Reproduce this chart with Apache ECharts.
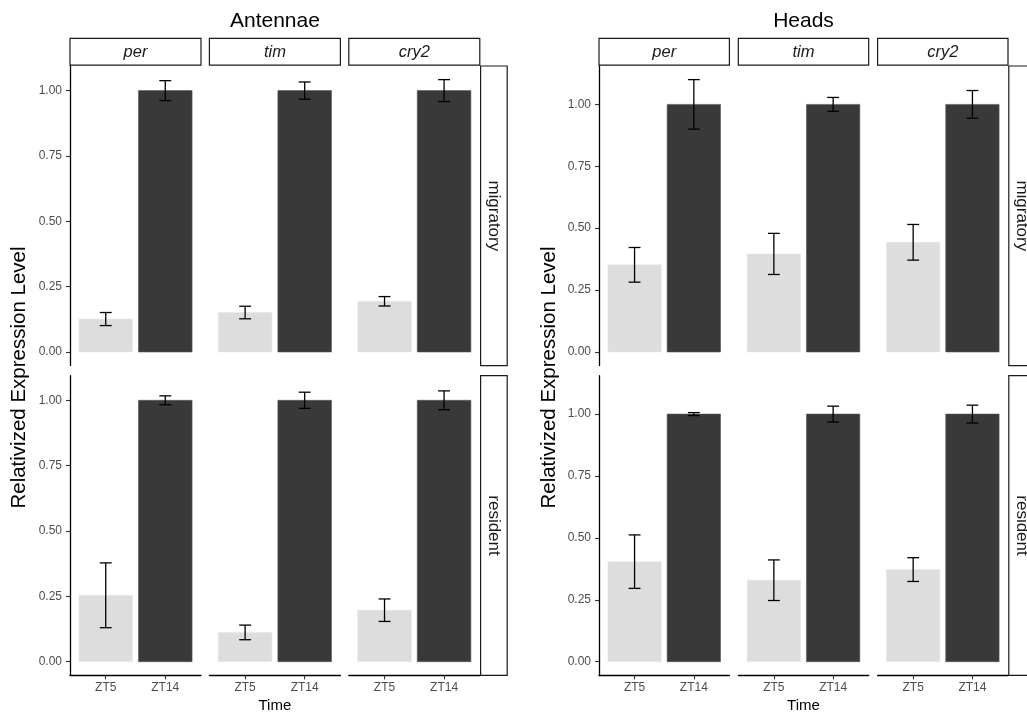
<!DOCTYPE html>
<html>
<head>
<meta charset="utf-8">
<script src="https://cdn.jsdelivr.net/npm/echarts@6/dist/echarts.min.js"></script>
<style>
html,body{margin:0;padding:0;background:#fff;}
#chart{width:1027px;height:712px;}
</style>
</head>
<body>
<div id="chart"></div>
<script>
// ---------- data ----------
const tissues = ['Antennae', 'Heads'];
const genes = ['per', 'tim', 'cry2'];
const populations = ['migratory', 'resident'];
const times = ['ZT5', 'ZT14'];
const yTicks = [0, 0.25, 0.5, 0.75, 1.0];

// means per gene: [ZT5, ZT14]
const antMigMean = [[0.126, 1.0], [0.151, 1.0], [0.194, 1.0]];
const antMigErr  = [[0.025, 0.038], [0.024, 0.033], [0.018, 0.042]];
const antResMean = [[0.254, 1.0], [0.112, 1.0], [0.197, 1.0]];
const antResErr  = [[0.124, 0.017], [0.028, 0.031], [0.043, 0.036]];
const headMigMean = [[0.352, 1.0], [0.396, 1.0], [0.443, 1.0]];
const headMigErr  = [[0.070, 0.100], [0.083, 0.028], [0.072, 0.056]];
const headResMean = [[0.404, 1.0], [0.329, 1.0], [0.372, 1.0]];
const headResErr  = [[0.108, 0.006], [0.082, 0.032], [0.048, 0.036]];

const means = [[antMigMean, antResMean], [headMigMean, headResMean]];
const errs  = [[antMigErr, antResErr], [headMigErr, headResErr]];

// ---------- layout / style ----------
const FONT = '"Liberation Sans", Arial, Helvetica, sans-serif';
const fillColors = ['#DDDDDD', '#393939'];
const panelLeft = [[70, 209.4, 348.8], [599, 738.3, 877.6]];
const panelW = [131, 130.4];
const rowTop = [66, 375.7];
const rowH = 299.6;
const stripTop = 38.3, stripH = 26.8, sideStripW = 26.6;

const grids = [], xAxes = [], yAxes = [], series = [], graphics = [];

for (let t = 0; t < 2; t++) {
  // y-limits like ggplot (5% expansion of data range)
  let top = 0;
  for (let r = 0; r < 2; r++) for (let g = 0; g < 3; g++) for (let k = 0; k < 2; k++)
    top = Math.max(top, means[t][r][g][k] + errs[t][r][g][k]);
  const ymin = -0.05 * top, ymax = top * 1.05;

  for (let r = 0; r < 2; r++) {
    for (let g = 0; g < 3; g++) {
      const idx = grids.length;
      grids.push({left: panelLeft[t][g], top: rowTop[r], width: panelW[t], height: rowH, containLabel: false});
      const bottomRow = r === 1;
      xAxes.push({
        gridIndex: idx, type: 'value', min: 0.4, max: 2.6,
        splitLine: {show: false},
        axisLine: {show: bottomRow, onZero: false, lineStyle: {color: '#000', width: 1.3}},
        axisTick: {show: bottomRow, customValues: [1, 2], length: 4, lineStyle: {color: '#333', width: 1.1}},
        axisLabel: {show: bottomRow, customValues: [1, 2], margin: 6, color: '#4D4D4D', fontSize: 12, fontFamily: FONT,
          formatter: v => times[Math.round(v) - 1]}
      });
      const leftCol = g === 0;
      yAxes.push({
        gridIndex: idx, type: 'value', min: ymin, max: ymax,
        splitLine: {show: false},
        axisLine: {show: leftCol, onZero: false, lineStyle: {color: '#000', width: 1.3}},
        axisTick: {show: leftCol, customValues: yTicks, length: 4, lineStyle: {color: '#333', width: 1.1}},
        axisLabel: {show: leftCol, customValues: yTicks, margin: 8, color: '#4D4D4D', fontSize: 12, fontFamily: FONT,
          formatter: v => v.toFixed(2)}
      });
      // bars
      const barData = times.map((tm, k) => [k + 1, means[t][r][g][k], k]);
      series.push({
        type: 'custom', xAxisIndex: idx, yAxisIndex: idx, data: barData,
        encode: {x: 0, y: 1},
        renderItem: (params, api) => {
          const x = api.value(0), y = api.value(1), k = api.value(2);
          const p0 = api.coord([x - 0.45, y]);
          const p1 = api.coord([x + 0.45, 0]);
          return {type: 'rect', shape: {x: p0[0], y: p0[1], width: p1[0] - p0[0], height: p1[1] - p0[1]},
            style: {fill: fillColors[k], stroke: k === 0 ? '#E8E8E8' : '#555', lineWidth: 0.6}};
        }
      });
      // error bars
      const errData = times.map((tm, k) => [k + 1, means[t][r][g][k] - errs[t][r][g][k], means[t][r][g][k] + errs[t][r][g][k]]);
      series.push({
        type: 'custom', xAxisIndex: idx, yAxisIndex: idx, data: errData,
        encode: {x: 0, y: [1, 2]}, z: 5,
        renderItem: (params, api) => {
          const x = api.value(0), lo = api.value(1), hi = api.value(2);
          const a = api.coord([x, lo]), b = api.coord([x, hi]);
          const l = api.coord([x - 0.1, lo]), rr = api.coord([x + 0.1, lo]);
          const st = {stroke: '#000', lineWidth: 1.3};
          return {type: 'group', children: [
            {type: 'line', shape: {x1: a[0], y1: a[1], x2: b[0], y2: b[1]}, style: st},
            {type: 'line', shape: {x1: l[0], y1: a[1], x2: rr[0], y2: a[1]}, style: st},
            {type: 'line', shape: {x1: l[0], y1: b[1], x2: rr[0], y2: b[1]}, style: st}
          ]};
        }
      });
    }
    // side strip
    const sx = panelLeft[t][2] + panelW[t] + 0.8;
    graphics.push({type: 'rect', shape: {x: sx, y: rowTop[r], width: sideStripW, height: rowH},
      style: {fill: '#fff', stroke: '#1A1A1A', lineWidth: 1.2}});
    graphics.push({type: 'text', x: sx + sideStripW / 2, y: rowTop[r] + rowH / 2, rotation: -Math.PI / 2,
      style: {text: populations[r], fill: '#1A1A1A', font: '17px ' + FONT, align: 'center', verticalAlign: 'middle'}});
  }
  // top strips
  for (let g = 0; g < 3; g++) {
    graphics.push({type: 'rect', shape: {x: panelLeft[t][g], y: stripTop, width: panelW[t], height: stripH},
      style: {fill: '#fff', stroke: '#1A1A1A', lineWidth: 1.2}});
    graphics.push({type: 'text', x: panelLeft[t][g] + panelW[t] / 2, y: stripTop + stripH / 2 + 0.5,
      style: {text: genes[g], fill: '#1A1A1A', font: 'italic 16.5px ' + FONT, align: 'center', verticalAlign: 'middle'}});
  }
  const cx = (panelLeft[t][0] + panelLeft[t][2] + panelW[t]) / 2;
  // title
  graphics.push({type: 'text', x: cx, y: 21.5,
    style: {text: tissues[t], fill: '#000', font: '21px ' + FONT, align: 'center', verticalAlign: 'middle'}});
  // x title
  graphics.push({type: 'text', x: cx, y: 705.5,
    style: {text: 'Time', fill: '#000', font: '15px ' + FONT, align: 'center', verticalAlign: 'middle'}});
  // y title
  graphics.push({type: 'text', x: t === 0 ? 19 : 549, y: 377.5, rotation: Math.PI / 2,
    style: {text: 'Relativized Expression Level', fill: '#000', font: '20.5px ' + FONT, align: 'center', verticalAlign: 'middle'}});
}

const chart = echarts.init(document.getElementById('chart'), null, {renderer: 'canvas'});
chart.setOption({
  animation: false,
  backgroundColor: '#fff',
  grid: grids,
  xAxis: xAxes,
  yAxis: yAxes,
  series: series,
  graphic: {elements: graphics}
});
</script>
</body>
</html>
